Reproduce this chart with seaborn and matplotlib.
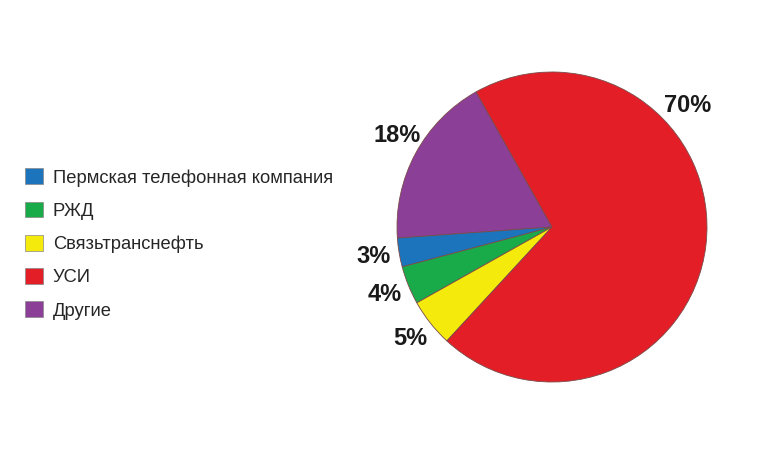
import numpy as np
import matplotlib
matplotlib.use("Agg")
import matplotlib.pyplot as plt
import seaborn as sns
from matplotlib.patches import Patch

sns.set_theme(style="white")
plt.rcParams['font.family'] = ['Liberation Sans', 'DejaVu Sans']

# Data (pie drawing order, counter-clockwise from the Другие/УСИ border)
categories = ["Другие", "Пермская телефонная компания", "РЖД", "Связьтранснефть", "УСИ"]
values = [18, 3, 4, 5, 70]
colors = ["#8B3F97", "#1C74BC", "#19AA4A", "#F4EA0B", "#E41E26"]
legend_order = ["Пермская телефонная компания", "РЖД", "Связьтранснефть", "УСИ", "Другие"]

W, H = 760, 454
fig = plt.figure(figsize=(W / 100, H / 100), dpi=100)
fig.patch.set_facecolor("white")

cx, cy, r = 552, 227, 155
ax = fig.add_axes([(cx - r) / W, (cy - r) / H, 2 * r / W, 2 * r / H])
wedges, texts, autotexts = ax.pie(
    values, colors=colors, startangle=119.3, counterclock=True,
    autopct=lambda p: f"{p:.0f}%", pctdistance=1.165,
    wedgeprops=dict(edgecolor="#7a4a4a", linewidth=0.6),
    textprops=dict(fontsize=17, fontweight="bold", color="#1a1a1a"),
)
# label placement tweaks as in the reference
ang = np.deg2rad(42.0)
autotexts[-1].set_position((1.175 * np.cos(ang), 1.175 * np.sin(ang)))
ang = np.deg2rad(149.3)
autotexts[0].set_position((1.16 * np.cos(ang), 1.16 * np.sin(ang)))
ax.set_xlim(-1, 1)
ax.set_ylim(-1, 1)
ax.set_aspect("equal")
ax.axis("off")

cmap = dict(zip(categories, colors))
handles = [Patch(facecolor=cmap[c], edgecolor="#888888", linewidth=0.5, label=c) for c in legend_order]
fig.legend(handles=handles, loc="upper left", bbox_to_anchor=(18 / W, 1 - 161 / H),
           frameon=False, fontsize=13.2, handlelength=0.95, handleheight=0.95,
           handletextpad=0.55, labelspacing=0.82, borderaxespad=0)

fig.savefig("out.png", dpi=100, facecolor="white")
